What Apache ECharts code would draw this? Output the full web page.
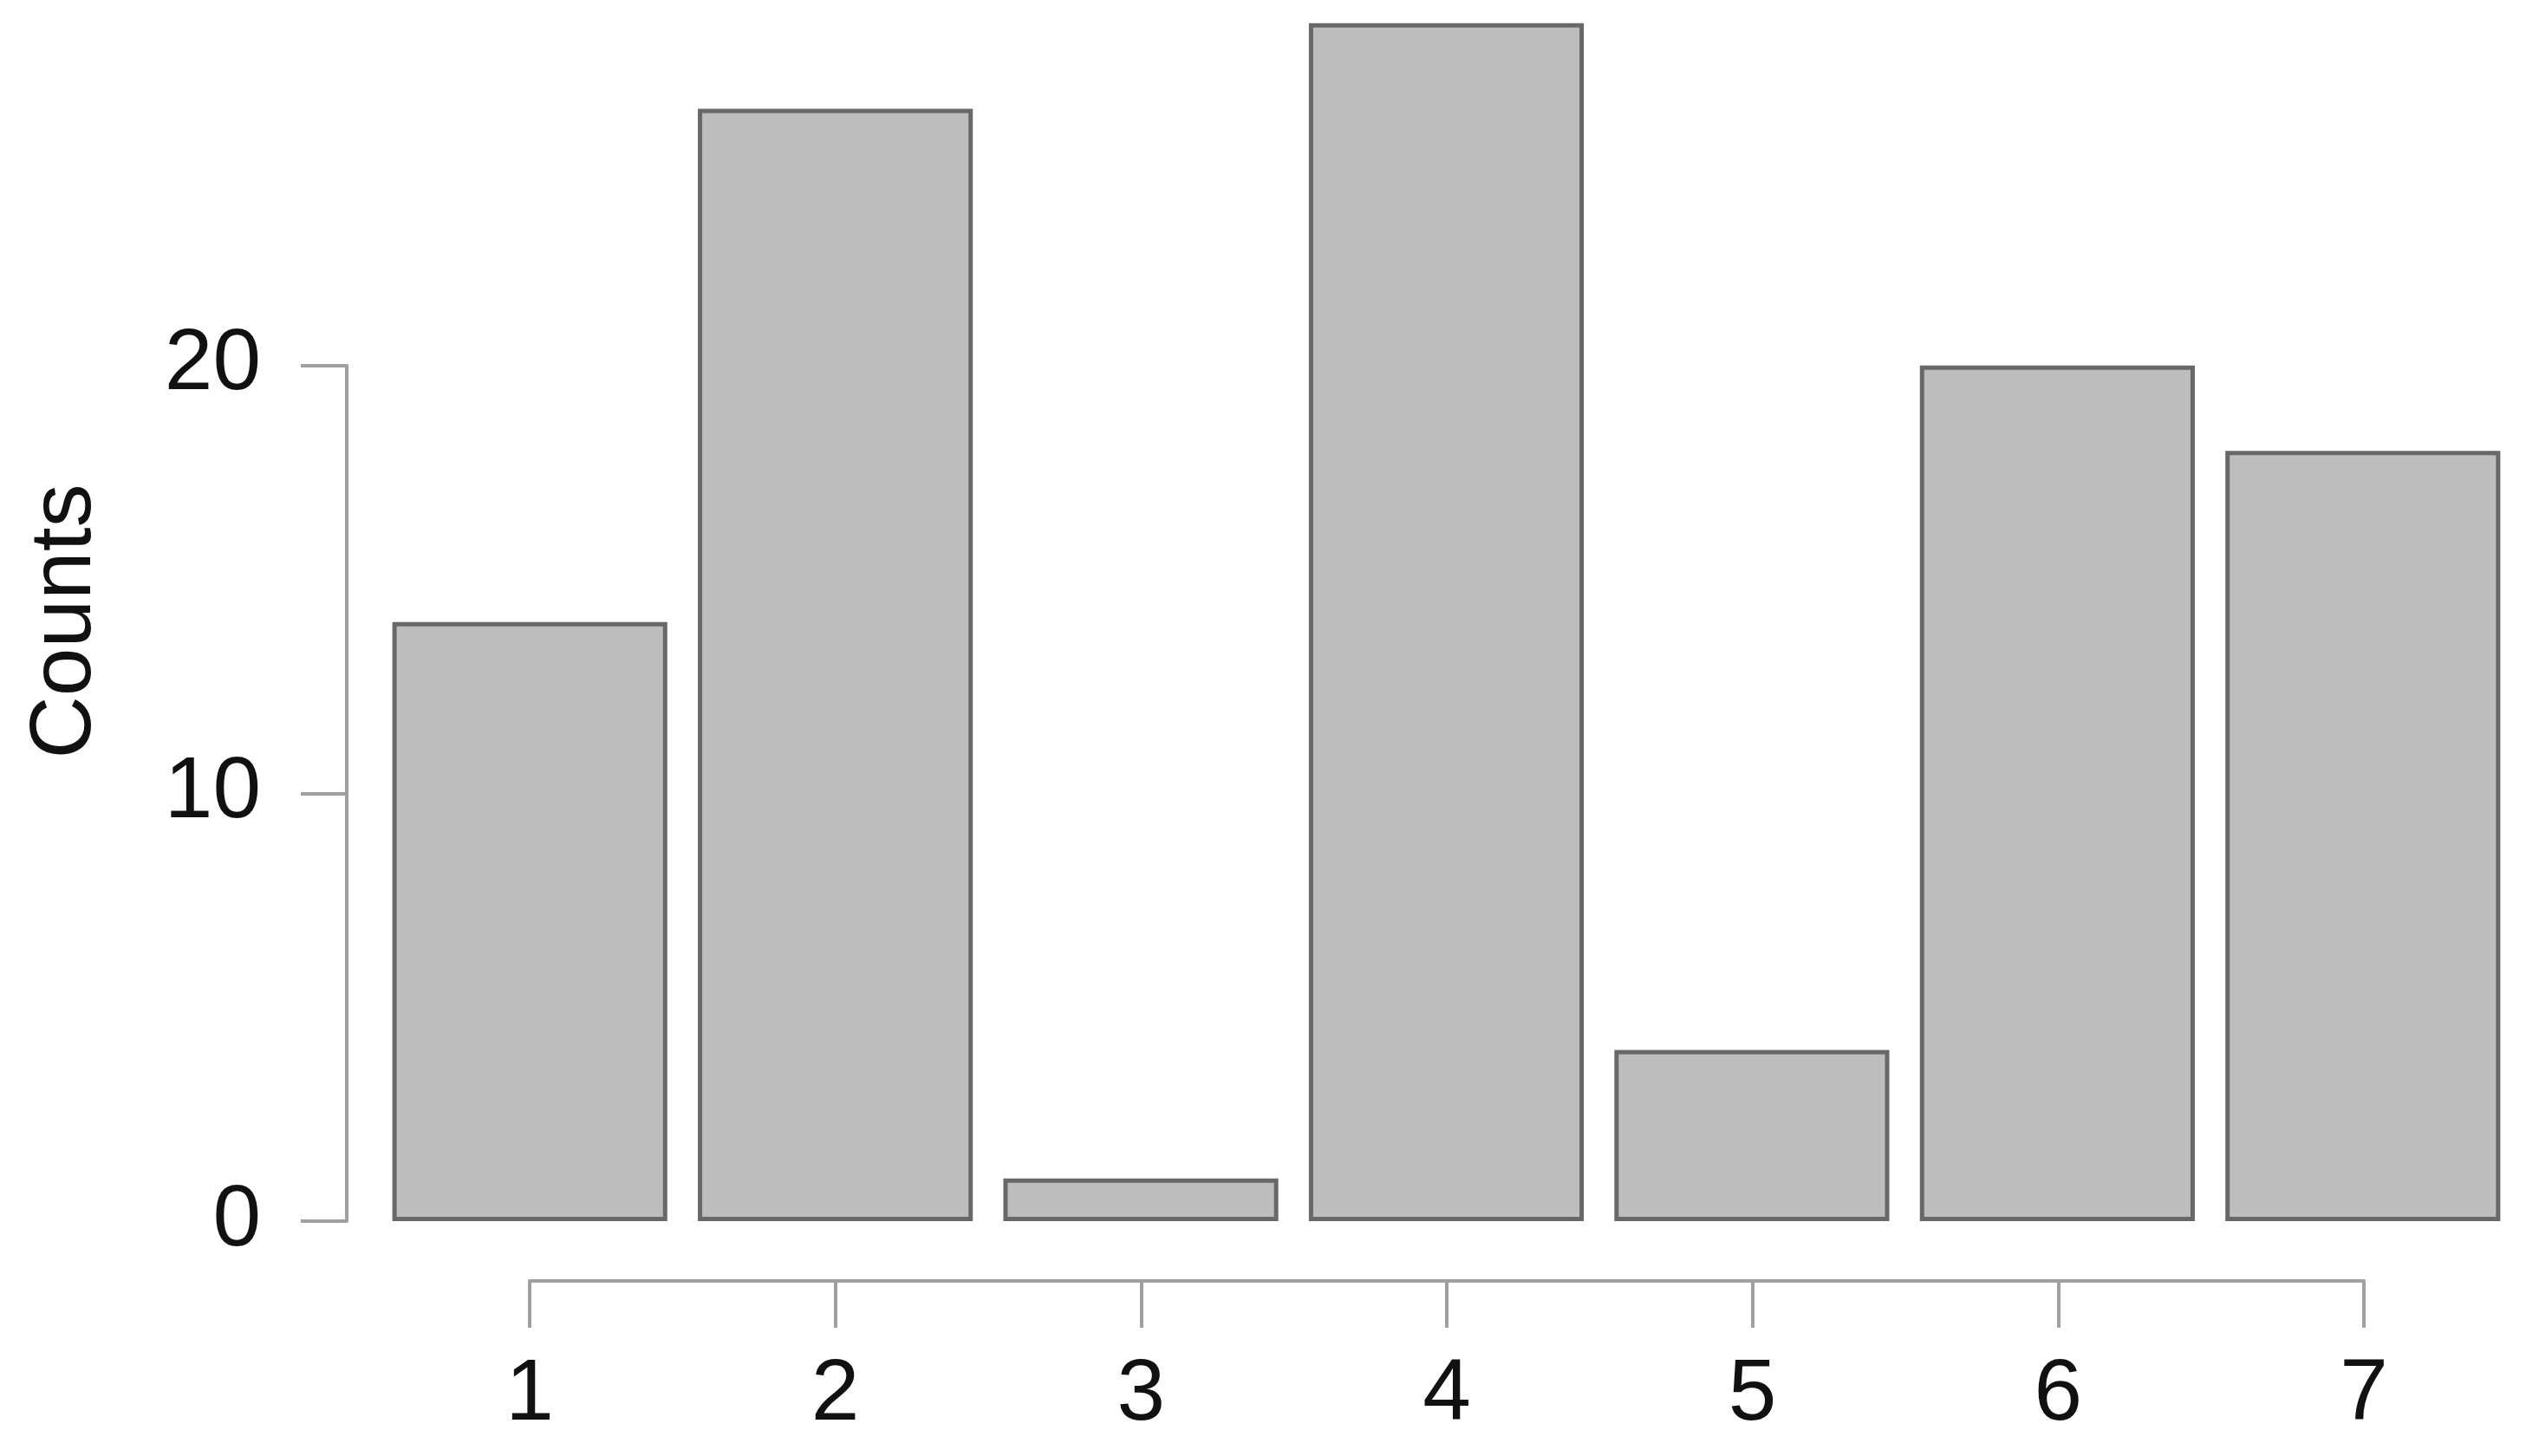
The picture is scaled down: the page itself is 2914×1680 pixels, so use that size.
<!DOCTYPE html>
<html>
<head>
<meta charset="utf-8">
<script src="https://cdn.jsdelivr.net/npm/echarts@6/dist/echarts.min.js"></script>
<style>
  html, body { margin: 0; padding: 0; background: #ffffff; }
  #chart { width: 2914px; height: 1680px; }
</style>
</head>
<body>
<div id="chart"></div>
<script>
const categories = ['1', '2', '3', '4', '5', '6', '7'];
const counts = [14, 26, 1, 28, 4, 20, 18];
const yTicks = [0, 10, 20];
const yAxisTitle = 'Counts';

const FONT = '"Liberation Sans", Arial, Helvetica, sans-serif';
const axisGray = '#a0a0a0';

const chart = echarts.init(document.getElementById('chart'), null, { renderer: 'canvas' });

chart.setOption({
  backgroundColor: '#ffffff',
  animation: false,
  grid: [
    { left: 435, right: 12, top: 2, bottom: 271 },            // bars
    { left: 400, width: 10, top: 421.7, bottom: 271 },        // R-style y axis (0..20)
    { left: 611, right: 187, top: 1400, bottom: 202 }         // R-style x axis
  ],
  xAxis: [
    { gridIndex: 0, type: 'category', data: categories, show: false },
    { gridIndex: 1, type: 'value', show: false },
    {
      gridIndex: 2, type: 'category', data: categories, boundaryGap: false,
      position: 'bottom',
      axisLine: { show: true, lineStyle: { color: axisGray, width: 4 } },
      axisTick: { show: true, length: 54, alignWithLabel: true, lineStyle: { color: axisGray, width: 4 } },
      axisLabel: { show: true, margin: 82, fontSize: 100, color: '#111', fontFamily: FONT, interval: 0 },
      splitLine: { show: false }
    }
  ],
  yAxis: [
    { gridIndex: 0, type: 'value', min: 0, max: 28.5, show: false },
    {
      gridIndex: 1, type: 'value', min: yTicks[0], max: yTicks[yTicks.length - 1], interval: 10,
      position: 'left',
      axisLine: { show: true, lineStyle: { color: axisGray, width: 4 } },
      axisTick: { show: true, length: 53, lineStyle: { color: axisGray, width: 4 } },
      axisLabel: { show: true, margin: 99, fontSize: 100, color: '#111', fontFamily: FONT },
      splitLine: { show: false }
    },
    { gridIndex: 2, type: 'value', show: false }
  ],
  graphic: [
    {
      type: 'text',
      x: 76, y: 717,
      rotation: Math.PI / 2,
      style: {
        text: yAxisTitle,
        font: '100px ' + FONT,
        fill: '#111',
        textAlign: 'center',
        textVerticalAlign: 'middle'
      }
    }
  ],
  series: [
    {
      type: 'bar',
      xAxisIndex: 0,
      yAxisIndex: 0,
      data: counts,
      barCategoryGap: '10%',
      itemStyle: { color: '#bdbdbd', borderColor: '#686868', borderWidth: 5 },
      emphasis: { disabled: true }
    }
  ]
});
</script>
</body>
</html>
